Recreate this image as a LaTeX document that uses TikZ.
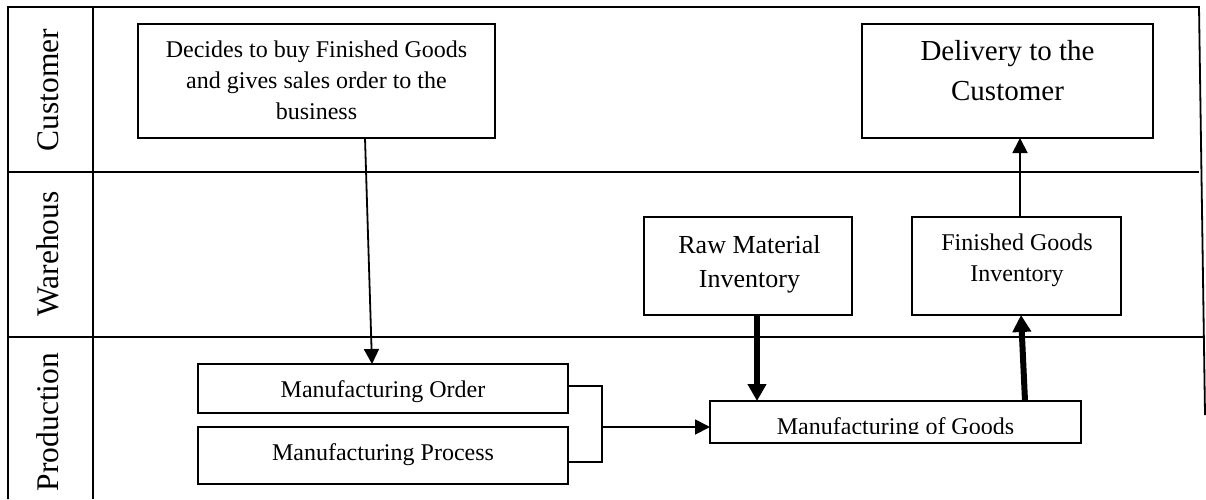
\documentclass[tikz,border=0pt]{standalone}
\usepackage{fontspec}
\setmainfont{Liberation Serif}
\usetikzlibrary{arrows.meta,calc}
\begin{document}
\begin{tikzpicture}[x=1pt,y=-1pt,
  frame/.style={line width=1.8pt},
  box/.style={draw, line width=1.8pt, inner sep=0pt, outer sep=0pt},
  txt/.style={inner sep=0pt, align=center},
  arr/.style={line width=1.8pt, -{Triangle[width=15pt,length=15pt]}},
  fatarr/.style={line width=6pt, -{Triangle[width=18pt,length=17pt]}},
  lane/.style={rotate=90, anchor=base, inner sep=0pt, font=\fontsize{31.5}{36}\selectfont}]
\fill[white] (0,0) rectangle (1206,499);
\useasboundingbox (0,0) rectangle (1206,499);
% swimlane frame
\draw[frame] (8,499) -- (8,7) -- (1199,7) -- (1205,415);
\draw[frame] (93,7) -- (93,499);
\draw[frame] (8,172) -- (1199,172);
\draw[frame] (8,337) -- (1205,337);
% lane labels
\node[lane] (lc) at (58,90) {Customer};
\node[lane] (lw) at (58,254) {Warehous};
\node[lane] (lp) at (58,422) {Production};
% boxes
\node[box, minimum width=357pt, minimum height=114pt] (custbox) at (316.5,81) {};
\node[box, minimum width=291pt, minimum height=114pt] (delbox) at (1007.5,81) {};
\node[box, minimum width=208pt, minimum height=98pt] (rawbox) at (748,266) {};
\node[box, minimum width=209pt, minimum height=98pt] (fgbox) at (1016.5,266) {};
\node[box, minimum width=370pt, minimum height=49pt] (mobox) at (383,388.5) {};
\node[box, minimum width=370pt, minimum height=57pt] (mpbox) at (383,455.5) {};
\node[box, minimum width=371pt, minimum height=42pt] (mgbox) at (895.5,422) {};
% texts
\node[txt, anchor=north, font=\fontsize{24}{31}\selectfont] (cust) at (316.5,40.6) {Decides to buy Finished Goods\\and gives sales order to the\\business};
\node[txt, anchor=north, font=\fontsize{29}{40}\selectfont] (del) at (1007.5,40.2) {Delivery to the\\Customer};
\node[txt, anchor=north, font=\fontsize{26}{34}\selectfont] (raw) at (749.5,235.2) {Raw Material\\Inventory};
\node[txt, anchor=north, font=\fontsize{24}{31}\selectfont] (fg) at (1017,233.6) {Finished Goods\\Inventory};
\node[txt, anchor=base, font=\fontsize{24}{29}\selectfont] (mo) at (383,397) {Manufacturing Order};
\node[txt, anchor=base, font=\fontsize{24}{29}\selectfont] (mp) at (383,460) {Manufacturing Process};
\begin{scope}
\clip (710,401) rectangle (1081,433);
\node[txt, anchor=base, font=\fontsize{24}{29}\selectfont] (mg) at (895.5,434) {Manufacturing of Goods};
\end{scope}
% connectors
\draw[arr] ([xshift=48.5pt]custbox.south) -- ([xshift=-11pt]mobox.north);
\coordinate (br) at (602,427);
\draw[line width=1.8pt] ([yshift=2.5pt]mobox.east) -| (br) |- ([yshift=-6.5pt]mpbox.east);
\draw[arr] (br) -- (br -| mgbox.west);
\draw[fatarr] ([xshift=9pt]rawbox.south) -- ([xshift=-138.5pt]mgbox.north);
\draw[fatarr] ([xshift=129.5pt]mgbox.north) -- ([xshift=4.5pt]fgbox.south);
\draw[arr] ([xshift=3.5pt]fgbox.north) -- ([xshift=12.5pt]delbox.south);
\end{tikzpicture}
\end{document}
